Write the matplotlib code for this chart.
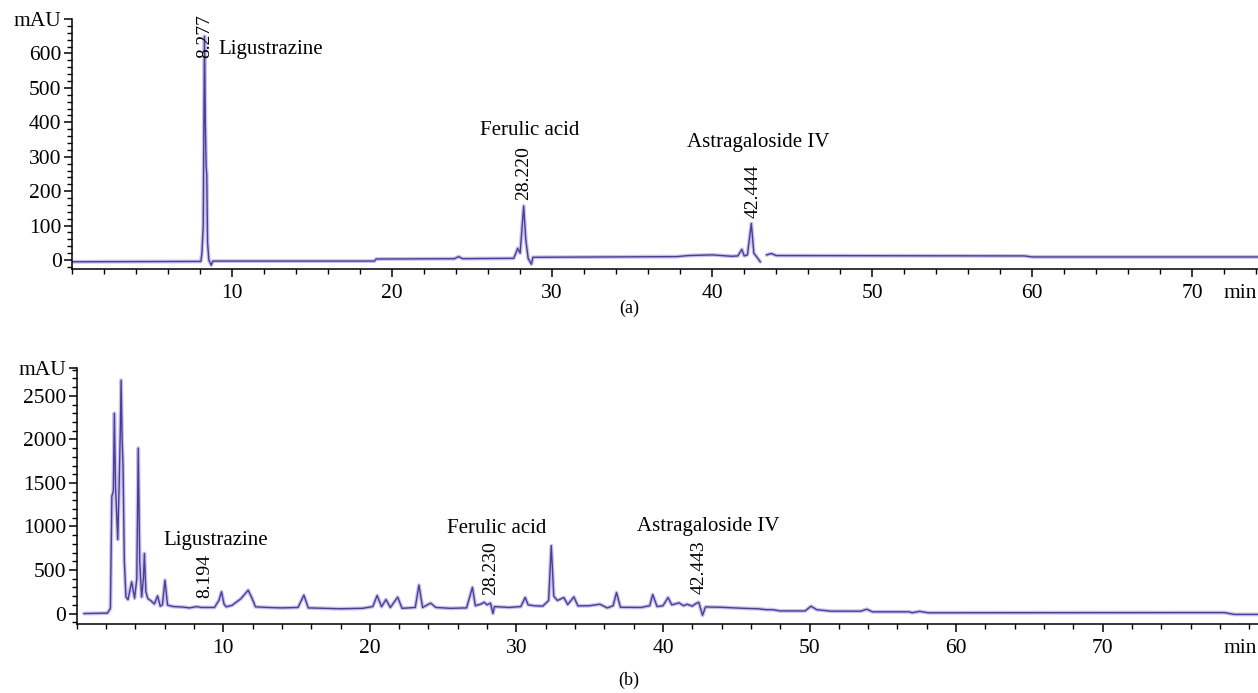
import matplotlib.pyplot as plt
import numpy as np
from matplotlib.ticker import MultipleLocator

plt.rcParams['font.family'] = ['Liberation Serif', 'DejaVu Serif']

# (a) reference standards: retention time (min) and absorbance (mAU) along the trace
std_time = [0.0, 8.05, 8.12, 8.2, 8.277, 8.33, 8.38, 8.42, 8.47, 8.55, 8.7, 8.8,
            18.9, 19.0, 23.9, 24.15, 24.4, 27.6, 27.85, 28.0, 28.22, 28.35, 28.5,
            28.7, 28.8, 37.8, 38.5, 40.0, 41.2, 41.6, 41.85, 42.0, 42.2, 42.444,
            42.6, 42.8, 43.0, np.nan, 43.4, 43.7, 44.0, 59.5, 60.0, 74.2]
std_mau = [-5, -4, 20, 100, 650, 400, 270, 250, 50, 0, -15, -3,
           -3, 3, 4, 10, 4, 5, 34, 20, 157, 60, 5,
           -12, 8, 10, 13, 15, 11, 12, 31, 12, 15, 106,
           20, 8, -5, np.nan, 15, 19, 13, 12, 9, 9]

# (b) sample extract
smp_time = [0.5, 2.1, 2.3, 2.4, 2.5, 2.57, 2.65, 2.8, 2.9, 2.98, 3.03, 3.1, 3.16,
            3.25, 3.36, 3.5, 3.75, 3.95, 4.1, 4.2, 4.3, 4.43, 4.55, 4.62, 4.72,
            4.85, 5.07, 5.3, 5.52, 5.7, 5.85, 6.02, 6.2, 6.6, 7.2, 7.7, 8.194,
            8.5, 9.4, 9.7, 9.88, 10.05, 10.2, 10.6, 11.2, 11.7, 11.95, 12.2, 13.0,
            14.0, 15.1, 15.5, 15.8, 17.0, 18.0, 19.5, 20.2, 20.5, 20.8, 21.1,
            21.4, 21.9, 22.2, 23.1, 23.35, 23.6, 24.15, 24.5, 25.5, 26.6, 27.0,
            27.2, 27.6, 27.8, 28.0, 28.23, 28.4, 28.5, 29.5, 30.3, 30.6, 30.8,
            31.2, 31.8, 32.2, 32.38, 32.55, 32.8, 33.24, 33.5, 33.92, 34.2, 35.0,
            35.7, 36.2, 36.6, 36.83, 37.1, 38.5, 39.1, 39.3, 39.6, 40.0, 40.35,
            40.6, 41.1, 41.4, 41.65, 42.0, 42.2, 42.443, 42.7, 42.9, 44.0, 45.5,
            46.5, 47.0, 47.5, 48.0, 49.7, 50.1, 50.5, 51.5, 53.5, 53.9, 54.3,
            56.8, 57.0, 57.5, 58.1, 78.3, 79.0, 80.6]
smp_mau = [0, 5, 60, 1350, 1400, 2300, 1450, 850, 1500, 2130, 2680, 2000, 1700,
           600, 190, 160, 364, 175, 400, 1900, 600, 190, 400, 690, 250,
           173, 146, 110, 203, 85, 100, 383, 96, 80, 75, 65, 80,
           70, 70, 150, 250, 110, 77, 95, 170, 268, 180, 77, 70,
           65, 70, 211, 65, 60, 55, 60, 80, 207, 78, 161,
           70, 188, 60, 70, 326, 70, 120, 70, 60, 65, 300,
           90, 110, 130, 100, 120, 0, 80, 70, 80, 185, 100,
           90, 85, 150, 780, 200, 150, 184, 103, 191, 88, 90,
           107, 65, 90, 241, 72, 70, 90, 218, 80, 90, 184,
           100, 123, 90, 107, 85, 110, 130, -20, 76, 72, 60,
           55, 45, 44, 30, 30, 84, 44, 27, 27, 50, 20,
           20, 9, 25, 9, 11, -10, -10]

compounds = ['Ligustrazine', 'Ferulic acid', 'Astragaloside IV']
std_rt = [8.277, 28.220, 42.444]
smp_rt = [8.194, 28.230, 42.443]

TICK_SIZE = 15.5


def draw_trace(ax, t, v):
    ax.plot(t, v, color='#b3a8e6', lw=2.8, alpha=0.7, solid_capstyle='round')
    ax.plot(t, v, color='#4a3d95', lw=1.0)


def style_axes(ax, xmax, ylim, ymajor, yminor):
    ax.set_xlim(0, xmax)
    ax.set_ylim(*ylim)
    for side in ('top', 'right'):
        ax.spines[side].set_visible(False)
    for side in ('left', 'bottom'):
        ax.spines[side].set_linewidth(1.1)
    ax.set_xticks([10, 20, 30, 40, 50, 60, 70])
    ax.xaxis.set_minor_locator(MultipleLocator(2))
    ax.yaxis.set_minor_locator(MultipleLocator(yminor))
    yt = list(np.arange(0, ylim[1] - ymajor / 2, ymajor)) + [ylim[1]]
    ax.set_yticks(yt)
    ax.set_yticklabels([str(int(y)) for y in yt[:-1]] + ['mAU'])
    ax.tick_params(which='major', length=6, width=1.1, labelsize=TICK_SIZE, pad=1.5)
    ax.tick_params(which='minor', length=3.5, width=1.0)
    ax.tick_params(axis='x', which='major', pad=5)
    # unit of the time axis, at the right end of the axis
    ax.annotate('min', xy=(1, 0), xycoords='axes fraction', xytext=(-1, -11),
                textcoords='offset points', ha='right', va='top', fontsize=TICK_SIZE)


fig = plt.figure(figsize=(12.58, 6.93), dpi=100)
ax1 = fig.add_axes([72 / 1258, 1 - 269 / 693, 1186 / 1258, 250 / 693])
ax2 = fig.add_axes([76.7 / 1258, 1 - 624 / 693, 1181.3 / 1258, 256 / 693])

# (a) standards
draw_trace(ax1, std_time, std_mau)
style_axes(ax1, 74.1, (-26, 700), 100, 20)
name_pos = [(9.12, 610, 'left'), (28.6, 377, 'center'), (42.9, 341, 'center')]
for name, (x, y, ha) in zip(compounds, name_pos):
    ax1.text(x, y, name, ha=ha, va='center', fontsize=15)
for rt, dx, y in zip(std_rt, [0.03, -0.02, 0.1], [587, 174, 121]):
    ax1.text(rt + dx, y, f'{rt:.3f}', rotation=90, ha='center', va='bottom', fontsize=14)

# (b) sample
draw_trace(ax2, smp_time, smp_mau)
style_axes(ax2, 80.6, (-120, 2820), 500, 100)
name_pos = [(9.46, 837), (28.65, 978), (43.07, 996)]
for name, (x, y) in zip(compounds, name_pos):
    ax2.text(x, y, name, ha='center', va='center', fontsize=15)
for rt, dx, y in zip(smp_rt, [0.55, 0.01, 0.0], [176, 210, 230]):
    ax2.text(rt + dx, y, f'{rt:.3f}', rotation=90, ha='center', va='bottom', fontsize=14)

fig.text(0.5, 1 - 308 / 693, '(a)', ha='center', va='center', fontsize=13)
fig.text(0.5, 1 - 680 / 693, '(b)', ha='center', va='center', fontsize=13)

fig.savefig('out.png', dpi=100)
